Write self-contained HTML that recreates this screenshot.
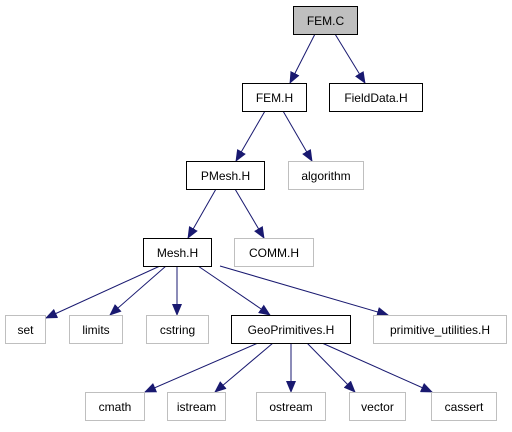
<!DOCTYPE html>
<html><head><meta charset="utf-8"><style>html,body{margin:0;padding:0;background:#fff}</style></head><body>
<svg width="512" height="427" xmlns="http://www.w3.org/2000/svg" font-family="Liberation Sans, sans-serif" font-size="12">
<defs><marker id="a" markerWidth="12" markerHeight="10" refX="11" refY="5" orient="auto" markerUnits="userSpaceOnUse"><path d="M0,0 L12,5 L0,10 z" fill="#191970"/></marker></defs>
<g stroke="#191970" stroke-width="1" fill="none" marker-end="url(#a)">
<line x1="315" y1="34" x2="290" y2="83"/>
<line x1="335" y1="34" x2="365" y2="83"/>
<line x1="265" y1="111" x2="236" y2="161"/>
<line x1="283" y1="111" x2="312" y2="161"/>
<line x1="216" y1="189" x2="188" y2="238"/>
<line x1="235" y1="189" x2="264" y2="238"/>
<line x1="160" y1="266" x2="46" y2="318"/>
<line x1="166" y1="266" x2="110" y2="315"/>
<line x1="177" y1="266" x2="177" y2="315"/>
<line x1="198" y1="266" x2="270" y2="315"/>
<line x1="220" y1="266" x2="388" y2="315"/>
<line x1="258" y1="343" x2="145" y2="392"/>
<line x1="273" y1="343" x2="215" y2="392"/>
<line x1="291" y1="343" x2="291" y2="392"/>
<line x1="307" y1="343" x2="355" y2="392"/>
<line x1="322" y1="343" x2="432" y2="392"/>
</g>
<g stroke-width="1">
<rect x="293.5" y="6.5" width="64" height="28" fill="#bfbfbf" stroke="#000"/>
<rect x="242.5" y="83.5" width="64" height="28" fill="#fff" stroke="#000"/>
<rect x="329.5" y="83.5" width="93" height="28" fill="#fff" stroke="#000"/>
<rect x="186.5" y="161.5" width="78" height="28" fill="#fff" stroke="#000"/>
<rect x="288.5" y="161.5" width="75" height="28" fill="#fff" stroke="#bfbfbf"/>
<rect x="143.5" y="238.5" width="68" height="28" fill="#fff" stroke="#000"/>
<rect x="234.5" y="238.5" width="79" height="28" fill="#fff" stroke="#bfbfbf"/>
<rect x="5.5" y="315.5" width="40" height="28" fill="#fff" stroke="#bfbfbf"/>
<rect x="69.5" y="315.5" width="53" height="28" fill="#fff" stroke="#bfbfbf"/>
<rect x="146.5" y="315.5" width="62" height="28" fill="#fff" stroke="#bfbfbf"/>
<rect x="231.5" y="315.5" width="119" height="28" fill="#fff" stroke="#000"/>
<rect x="373.5" y="315.5" width="133" height="28" fill="#fff" stroke="#bfbfbf"/>
<rect x="85.5" y="392.5" width="59" height="28" fill="#fff" stroke="#bfbfbf"/>
<rect x="167.5" y="392.5" width="58" height="28" fill="#fff" stroke="#bfbfbf"/>
<rect x="256.5" y="392.5" width="69" height="28" fill="#fff" stroke="#bfbfbf"/>
<rect x="349.5" y="392.5" width="56" height="28" fill="#fff" stroke="#bfbfbf"/>
<rect x="431.5" y="392.5" width="65" height="28" fill="#fff" stroke="#bfbfbf"/>
</g>
<g text-anchor="middle" fill="#000">
<text x="325.5" y="25">FEM.C</text>
<text x="274.5" y="102">FEM.H</text>
<text x="376" y="102">FieldData.H</text>
<text x="225.5" y="180">PMesh.H</text>
<text x="326" y="180">algorithm</text>
<text x="177.5" y="257">Mesh.H</text>
<text x="274" y="257">COMM.H</text>
<text x="25.5" y="334">set</text>
<text x="96" y="334">limits</text>
<text x="177.5" y="334">cstring</text>
<text x="291" y="334">GeoPrimitives.H</text>
<text x="440" y="334">primitive_utilities.H</text>
<text x="115" y="411">cmath</text>
<text x="196.5" y="411">istream</text>
<text x="291" y="411">ostream</text>
<text x="377.5" y="411">vector</text>
<text x="464" y="411">cassert</text>
</g>
</svg>
</body></html>
